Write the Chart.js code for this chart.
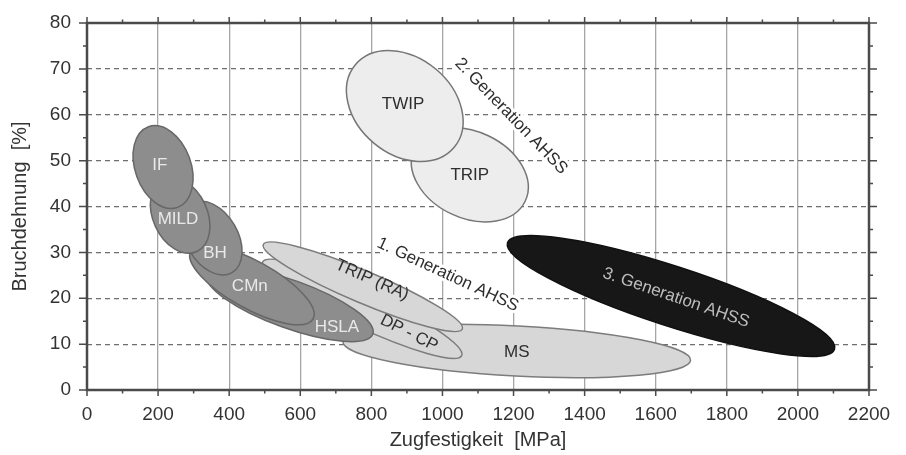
<!DOCTYPE html>
<html>
<head>
<meta charset="utf-8">
<script src="https://cdn.jsdelivr.net/npm/chart.js@4.4.0/dist/chart.umd.min.js"></script>
<style>
  html, body { margin: 0; padding: 0; background: #fff; }
</style>
</head>
<body>
<canvas id="chart" width="906" height="455"></canvas>
<script>
// Steel grade regions (banana diagram). Each ellipse: centre and tip of the long axis
// in (MPa, %), plus ratio short/long axis. Listed in drawing order.
const gradeNames = ['MS', 'DP - CP', 'TRIP (RA)', 'HSLA', 'CMn', 'BH', 'MILD', 'IF', 'TRIP', 'TWIP', '3. Generation AHSS'];
const gradeGroup = ['gen1', 'gen1', 'gen1', 'mild', 'mild', 'mild', 'mild', 'mild', 'gen2', 'gen2', 'gen3'];
const centreMPa = [1209, 774, 776, 571, 464, 352, 262, 214, 1077, 894, 1643];
const centrePct = [8.5, 17.7, 22.5, 18.7, 22.9, 33.1, 38.1, 48.6, 46.9, 61.9, 20.5];
const tipMPa = [1698, 1054, 1056, 804, 636, 408, 309, 255, 1233, 1033, 2103];
const tipPct = [6.5, 7.5, 13.3, 12.2, 15.5, 25.6, 30.2, 39.8, 41.2, 52.9, 8.9];
const widthRatio = [0.144, 0.164, 0.148, 0.273, 0.34, 0.65, 0.68, 0.65, 0.705, 0.75, 0.174];

// where the grade names sit
const labelMPa = [1209, 906, 802, 703, 458, 360, 256, 205, 1077, 889, 1657];
const labelPct = [8.3, 12.4, 24.0, 13.7, 22.5, 29.9, 37.1, 49.0, 46.9, 62.3, 20.1];

// group captions
const captions = ['1. Generation AHSS', '2. Generation AHSS'];
const captionMPa = [1015, 1193];
const captionPct = [25.1, 59.7];

// axes
const xMin = 0, xMax = 2200, xStep = 100;
const yMin = 0, yMax = 80, yStep = 5;

const groupStyle = {
    mild: { fill: '#8d8d8d', line: '#676767', text: '#e9e9e9' },
    gen1: { fill: '#d7d7d7', line: '#7c7c7c', text: '#2e2e2e' },
    gen2: { fill: '#ededed', line: '#767676', text: '#2e2e2e' },
    gen3: { fill: '#171717', line: '#101010', text: '#bdbdbd' }
};
const textAngle = { 'TRIP (RA)': 24, 'DP - CP': 27, '3. Generation AHSS': 19, '1. Generation AHSS': 25, '2. Generation AHSS': 46 };

const FONT = "'Liberation Sans', Arial, sans-serif";
Chart.defaults.font.family = FONT;

function drawText(ctx, text, px, py, angle, color, halo) {
    ctx.save();
    ctx.translate(px, py);
    ctx.rotate((angle || 0) * Math.PI / 180);
    ctx.font = `17px ${FONT}`;
    ctx.textAlign = 'center';
    ctx.textBaseline = 'middle';
    if (halo) {
        ctx.lineWidth = 6;
        ctx.strokeStyle = '#ffffff';
        ctx.lineJoin = 'round';
        ctx.strokeText(text, 0, 0);
    }
    ctx.fillStyle = color;
    ctx.fillText(text, 0, 0);
    ctx.restore();
}

const regionsPlugin = {
    id: 'steelRegions',
    beforeDatasetsDraw(chart) {
        const { ctx, chartArea, scales: { x, y } } = chart;
        ctx.save();
        ctx.beginPath();
        ctx.rect(chartArea.left, chartArea.top, chartArea.width, chartArea.height);
        ctx.clip();

        gradeNames.forEach((name, i) => {
            const cx = x.getPixelForValue(centreMPa[i]);
            const cy = y.getPixelForValue(centrePct[i]);
            const tx = x.getPixelForValue(tipMPa[i]);
            const ty = y.getPixelForValue(tipPct[i]);
            const a = Math.hypot(tx - cx, ty - cy);
            const st = groupStyle[gradeGroup[i]];
            ctx.beginPath();
            ctx.ellipse(cx, cy, a, a * widthRatio[i], Math.atan2(ty - cy, tx - cx), 0, Math.PI * 2);
            ctx.fillStyle = st.fill;
            ctx.fill();
            ctx.lineWidth = 1.5;
            ctx.strokeStyle = st.line;
            ctx.stroke();
        });

        gradeNames.forEach((name, i) => {
            drawText(ctx, name, x.getPixelForValue(labelMPa[i]), y.getPixelForValue(labelPct[i]),
                textAngle[name], groupStyle[gradeGroup[i]].text, false);
        });

        captions.forEach((text, i) => {
            drawText(ctx, text, x.getPixelForValue(captionMPa[i]), y.getPixelForValue(captionPct[i]),
                textAngle[text], '#2e2e2e', true);
        });
        ctx.restore();
    },
    afterDraw(chart) {
        // frame on all four sides with ticks pointing outwards
        const { ctx, chartArea: { left, right, top, bottom }, scales: { x, y } } = chart;
        ctx.save();
        ctx.strokeStyle = '#4a4a4a';
        ctx.lineWidth = 1.5;
        ctx.beginPath();
        x.ticks.forEach(t => {
            const px = x.getPixelForValue(t.value);
            const len = t.value % 200 === 0 ? 6 : 3.5;
            ctx.moveTo(px, bottom); ctx.lineTo(px, bottom + len);
            ctx.moveTo(px, top); ctx.lineTo(px, top - len);
        });
        y.ticks.forEach(t => {
            const py = y.getPixelForValue(t.value);
            const len = t.value % 10 === 0 ? 8 : 4;
            ctx.moveTo(left, py); ctx.lineTo(left - len, py);
            ctx.moveTo(right, py); ctx.lineTo(right + len, py);
        });
        ctx.stroke();
        ctx.lineWidth = 2.5;
        ctx.strokeRect(left, top, right - left, bottom - top);
        ctx.restore();
    }
};

const ctx = document.getElementById('chart').getContext('2d');
new Chart(ctx, {
    type: 'scatter',
    data: {
        datasets: [{
            data: centreMPa.map((v, i) => ({ x: v, y: centrePct[i] })),
            pointRadius: 0,
            pointHoverRadius: 0
        }]
    },
    options: {
        responsive: false,
        animation: false,
        events: [],
        layout: { padding: { top: 23, right: 37, bottom: 0, left: 0 } },
        plugins: { legend: { display: false }, tooltip: { enabled: false } },
        scales: {
            x: {
                type: 'linear',
                min: xMin,
                max: xMax,
                afterFit: s => { s.height = 65; },
                ticks: {
                    stepSize: xStep,
                    autoSkip: false,
                    maxRotation: 0,
                    color: '#333',
                    font: { size: 19 },
                    padding: 6,
                    callback: v => (v % 200 === 0 ? v : '')
                },
                grid: {
                    color: c => (c.tick && c.tick.value % 200 === 0 && c.tick.value > xMin && c.tick.value < xMax) ? '#a6a6a6' : 'transparent',
                    lineWidth: 1.3,
                    tickLength: 7,
                    tickColor: 'transparent'
                },
                border: { display: false },
                title: {
                    display: true,
                    text: 'Zugfestigkeit  [MPa]',
                    color: '#333',
                    font: { size: 20 },
                    padding: { top: 0, bottom: 3 }
                }
            },
            y: {
                type: 'linear',
                min: yMin,
                max: yMax,
                afterFit: s => { s.width = 87; },
                ticks: {
                    stepSize: yStep,
                    autoSkip: false,
                    color: '#333',
                    font: { size: 19 },
                    padding: 8,
                    callback: v => (v % 10 === 0 ? v : '')
                },
                grid: {
                    color: c => (c.tick && c.tick.value % 10 === 0 && c.tick.value > yMin && c.tick.value < yMax) ? '#6e6e6e' : 'transparent',
                    lineWidth: 1.2,
                    tickLength: 8,
                    tickColor: 'transparent'
                },
                border: { display: false, dash: [5, 4] },
                title: {
                    display: true,
                    text: 'Bruchdehnung  [%]',
                    color: '#333',
                    font: { size: 20 },
                    padding: { top: 8, bottom: 0 }
                }
            }
        }
    },
    plugins: [regionsPlugin]
});
</script>
</body>
</html>
